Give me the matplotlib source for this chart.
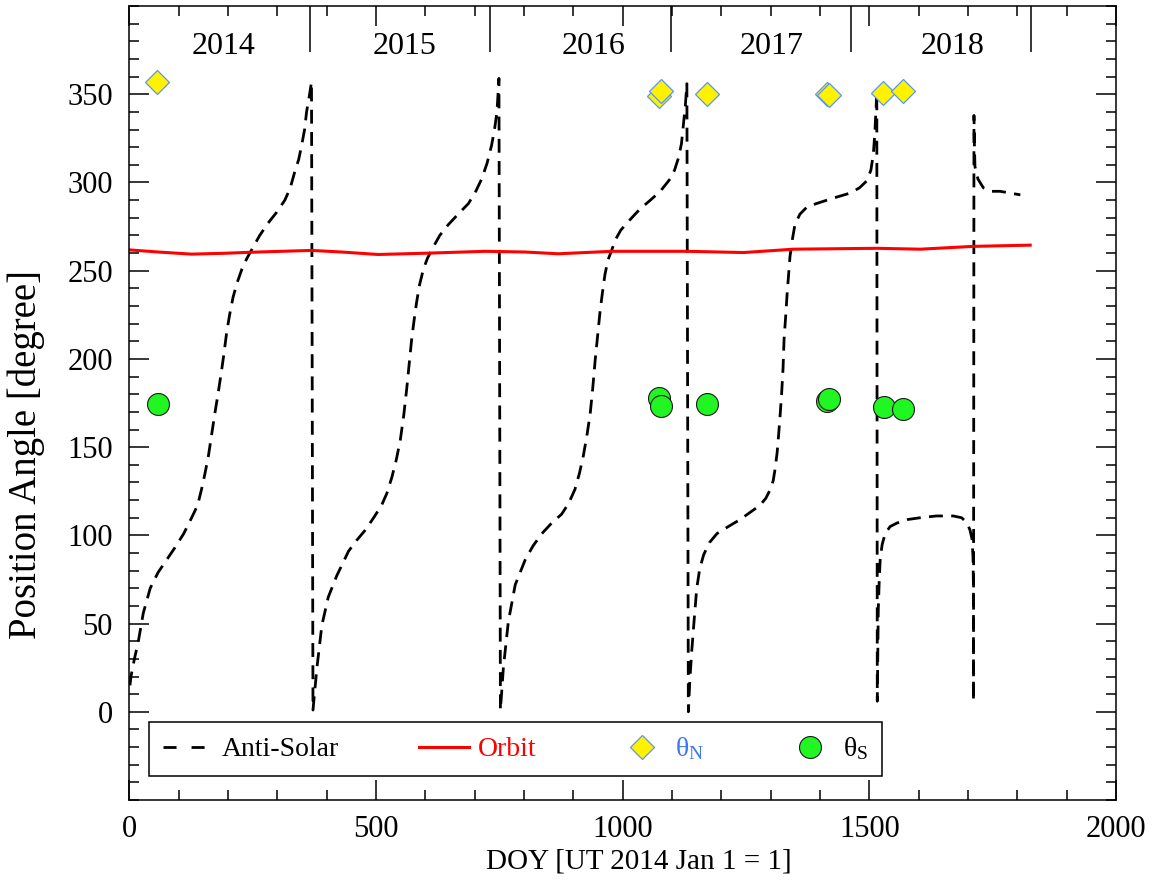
import matplotlib
matplotlib.use('Agg')
import matplotlib.pyplot as plt
from matplotlib.ticker import MultipleLocator

plt.rcParams['font.family'] = ['Liberation Serif', 'DejaVu Serif']
plt.rcParams['mathtext.fontset'] = 'custom'
plt.rcParams['mathtext.rm'] = 'Liberation Serif'
plt.rcParams['mathtext.it'] = 'Liberation Serif:italic'

# ---------------- data ----------------
antisolar_doy = [1, 3, 10, 18, 28, 42, 58, 75, 92, 110, 126, 138, 146, 153, 160, 166, 173, 180, 187,
                 192, 197, 203, 210, 218, 228, 238, 248, 264, 281, 298, 315, 326, 336, 343, 349,
                 355, 359, 364, 369,
                 372, 380, 390, 403, 420, 444, 460, 478, 495, 511, 522, 532, 541, 549, 556, 562,
                 567, 572, 577, 582, 588, 596, 604, 613, 629, 646, 666, 687, 702, 714, 725, 734,
                 740, 745, 749,
                 752, 758, 768, 782, 802, 818, 836, 856, 876, 890, 903, 912, 920, 927, 934, 939,
                 944, 949, 954, 959, 964, 970, 978, 986, 996, 1015, 1035, 1056, 1076, 1096, 1105,
                 1113, 1119, 1123, 1127, 1130,
                 1133, 1136, 1140, 1145, 1150, 1156, 1164, 1176, 1191, 1214, 1238, 1258, 1278,
                 1290, 1299, 1305, 1309, 1313, 1316, 1319, 1322, 1325, 1327, 1330, 1333, 1336,
                 1339, 1344, 1349, 1359, 1373, 1392, 1414, 1437, 1461, 1480, 1495, 1503, 1508,
                 1511, 1514, 1515,
                 1516, 1517, 1518, 1520, 1522, 1526, 1532, 1542, 1556, 1578, 1603, 1636, 1670,
                 1687, 1698, 1704, 1708, 1710, 1711, 1711,
                 1712, 1713, 1714, 1720, 1731, 1748, 1765, 1786, 1806]
antisolar_pa = [15, 20, 30, 40, 56, 70, 79, 86, 93, 101, 110, 117, 126, 135, 145, 156, 169, 181, 194,
                204, 215, 225, 235, 243, 251, 257, 262, 270, 277, 283, 290, 297, 307, 313, 321,
                330, 340, 348, 357,
                1, 25, 49, 65, 77, 91, 97, 103, 110, 117, 124, 133, 143, 154, 168, 183,
                197, 211, 222, 232, 242, 251, 257, 262, 270, 276, 282, 288, 295, 302, 311, 321,
                330, 340, 359,
                1, 25, 51, 72, 86, 94, 101, 107, 112, 118, 126, 135, 145, 156, 169, 183,
                199, 213, 227, 238, 248, 256, 262, 268, 273, 279, 285, 290, 295, 302, 307,
                314, 322, 333, 344, 356,
                0, 18, 35, 53, 70, 81, 89, 96, 101, 105, 109, 113, 117,
                121, 126, 131, 138, 147, 157, 168, 180, 195, 211, 223, 236, 247,
                258, 268, 276, 282, 286, 288, 290, 292, 294, 297, 301, 307, 316,
                328, 345, 352,
                6, 30, 58, 75, 87, 95, 101, 105, 107, 109, 110, 111, 111,
                110, 107, 103, 98, 88, 70, 6,
                338, 320, 309, 302, 297, 295, 295, 294, 293]

orbit_doy = [0, 58, 126, 194, 261, 369, 430, 504, 599, 721, 802, 869, 978, 1045, 1130, 1245,
             1346, 1515, 1603, 1711, 1826]
orbit_pa = [261.8, 260.6, 259.4, 259.9, 260.6, 261.5, 260.6, 259.2, 259.9, 261.0, 260.6, 259.6,
            261.0, 261.0, 261.0, 260.3, 262.2, 262.7, 262.2, 263.8, 264.5]

thetaN_doy = [56, 1074, 1077, 1170, 1414, 1418, 1528, 1569]
thetaN_pa = [357, 349, 352, 350, 350, 349.5, 351, 352]

thetaS_doy = [57, 1074, 1077, 1171, 1414, 1418, 1530, 1569]
thetaS_pa = [174.5, 178, 173.2, 174.5, 176.4, 177.3, 172.6, 171.7]

year_names = ['2014', '2015', '2016', '2017', '2018']
year_bounds = [366, 731, 1097, 1462, 1827]
year_label_doy = [190, 557, 941, 1301, 1668]

# ---------------- figure ----------------
fig = plt.figure(figsize=(11.54, 8.91), dpi=100)
ax = fig.add_axes([0.1122, 0.1021, 0.8549, 0.8911])

ax.plot(antisolar_doy, antisolar_pa, color='black', lw=2.0, dashes=(5, 3), label='Anti-Solar')
ax.plot(orbit_doy, orbit_pa, color='#ff0000', lw=2.2, label='Orbit')
ax.plot(thetaN_doy, thetaN_pa, ls='none', marker='D', ms=12.7, mfc='#fff200', mec='#5a96f0',
        mew=0.9, label=r'$\mathrm{θ}_\mathrm{N}$')
ax.plot(thetaS_doy, thetaS_pa, ls='none', marker='o', ms=15.8, mfc='#22f622', mec='#1a1a1a',
        mew=0.8, label=r'$\mathrm{θ}_\mathrm{S}$')

ax.set_xlim(0, 2000)
ax.set_ylim(-50, 400)
ax.xaxis.set_major_locator(MultipleLocator(500))
ax.xaxis.set_minor_locator(MultipleLocator(100))
ax.set_yticks(list(range(0, 351, 50)))
ax.yaxis.set_minor_locator(MultipleLocator(10))
ax.tick_params(which='both', direction='in', top=True, right=True, width=1.1, colors='black')
ax.tick_params(which='major', length=14.4, labelsize=22)
ax.tick_params(which='minor', length=7.2)
ax.tick_params(axis='x', which='major', pad=11)
ax.tick_params(axis='y', which='major', pad=12)
for s in ax.spines.values():
    s.set_linewidth(1.1)

# year separators and labels along the top
ax.vlines(year_bounds, 374, 400, color='black', lw=1.1)
for name, xd in zip(year_names, year_label_doy):
    ax.text(xd, 377, name, ha='center', va='center', fontsize=23)

ax.set_xlabel('DOY [UT 2014 Jan 1 = 1]', fontsize=21)
ax.xaxis.set_label_coords(0.5165, -0.061)
ax.set_ylabel('Position Angle [degree]', fontsize=28)
ax.yaxis.set_label_coords(-0.0857, 0.435)

leg = ax.legend(loc='lower left', bbox_to_anchor=(0.02, 0.03), ncol=4, frameon=True,
                fancybox=False, edgecolor='black', framealpha=1, fontsize=20,
                handlelength=1.8, handletextpad=0.3, columnspacing=2.9, borderpad=0.5,
                borderaxespad=0, numpoints=1)
leg.get_frame().set_linewidth(1.1)
leg.get_lines()[0].set_dashes((4.7, 5.4))
txts = leg.get_texts()
txts[1].set_color('#ff0000')
txts[2].set_color('#3c78f0')

fig.savefig('out.png', dpi=100)
